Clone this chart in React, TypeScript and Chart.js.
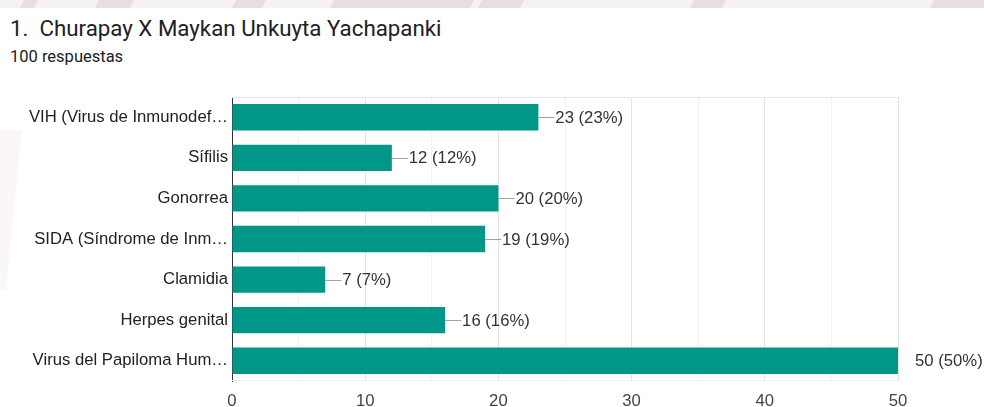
import React, { useEffect, useRef } from "react";
import { Chart, registerables } from "chart.js";

Chart.register(...registerables);

const titleText = "1.  Churapay X Maykan Unkuyta Yachapanki";
const subtitleText = "100 respuestas";
const categories = [
  "VIH (Virus de Inmunodef…",
  "Sífilis",
  "Gonorrea",
  "SIDA (Síndrome de Inm…",
  "Clamidia",
  "Herpes genital",
  "Virus del Papiloma Hum…",
];
const counts = [23, 12, 20, 19, 7, 16, 50];
const percents = [23, 12, 20, 19, 7, 16, 50];
const xMin = 0;
const xMax = 50;
const xMajorStep = 10;
const xMinorStep = 5;

const FONT = "Arial, 'Liberation Sans', sans-serif";
const FS = 16.7;

const decorPlugin = {
  id: "decor",
  beforeDraw(chart: any) {
    const ctx = chart.ctx;
    ctx.save();
    // faint top strip (screenshot artefact)
    ctx.fillStyle = "#f6f2f2";
    ctx.fillRect(0, 0, 984, 8);
    ctx.fillStyle = "rgba(190,150,155,0.22)";
    const shapes: number[][] = [
      [20, 34],
      [95, 130],
      [232, 262],
      [330, 470],
      [478, 520],
      [690, 722],
      [930, 984],
    ];
    shapes.forEach(([a, b]) => {
      ctx.beginPath();
      ctx.moveTo(a + 4, 0);
      ctx.lineTo(b + 4, 0);
      ctx.lineTo(b, 8);
      ctx.lineTo(a, 8);
      ctx.closePath();
      ctx.fill();
    });
    // faint watermark stroke on the left edge
    ctx.fillStyle = "rgba(200,150,160,0.08)";
    ctx.beginPath();
    ctx.moveTo(0, 130);
    ctx.lineTo(22, 130);
    ctx.lineTo(6, 290);
    ctx.lineTo(0, 290);
    ctx.closePath();
    ctx.fill();
    ctx.restore();
  },
  beforeDatasetsDraw(chart: any) {
    const { ctx, chartArea } = chart;
    ctx.save();
    ctx.strokeStyle = "#e6e6e6";
    ctx.lineWidth = 1;
    ctx.beginPath();
    ctx.moveTo(chartArea.left, Math.round(chartArea.top) + 0.5);
    ctx.lineTo(chartArea.right, Math.round(chartArea.top) + 0.5);
    ctx.stroke();
    ctx.strokeStyle = "#eeeeee";
    ctx.beginPath();
    ctx.moveTo(chartArea.left, Math.round(chartArea.bottom) - 0.5);
    ctx.lineTo(chartArea.right, Math.round(chartArea.bottom) - 0.5);
    ctx.stroke();
    ctx.restore();
  },
};

const labelPlugin = {
  id: "barLabels",
  afterDatasetsDraw(chart: any) {
    const ctx = chart.ctx;
    const meta = chart.getDatasetMeta(0);
    const right = chart.chartArea.right;
    ctx.save();
    meta.data.forEach((el: any, i: number) => {
      const x = el.x;
      const y = el.y;
      if (x < right - 1) {
        ctx.strokeStyle = "#a0a0a0";
        ctx.lineWidth = 1;
        ctx.beginPath();
        ctx.moveTo(x, Math.round(y) + 0.5);
        ctx.lineTo(x + 16, Math.round(y) + 0.5);
        ctx.stroke();
      }
      ctx.fillStyle = "#333333";
      ctx.font = `${FS}px ${FONT}`;
      ctx.textBaseline = "middle";
      ctx.textAlign = "left";
      ctx.fillText(`${counts[i]} (${percents[i]}%)`, x + 17, y + 1);
    });
    ctx.restore();
  },
};

export default function App() {
  const canvasRef = useRef<HTMLCanvasElement | null>(null);

  useEffect(() => {
    if (!canvasRef.current) return;
    const chart = new Chart(canvasRef.current, {
      type: "bar",
      data: {
        labels: categories,
        datasets: [
          {
            data: counts,
            backgroundColor: "#009688",
            borderWidth: 0,
            categoryPercentage: 0.65,
            barPercentage: 1,
          },
        ],
      },
      options: {
        indexAxis: "y",
        animation: false,
        responsive: false,
        maintainAspectRatio: false,
        layout: { padding: { top: 97, right: 86, bottom: 0, left: 0 } },
        plugins: {
          legend: { display: false },
          tooltip: { enabled: false },
          title: { display: false },
        },
        scales: {
          x: {
            min: xMin,
            max: xMax,
            ticks: {
              stepSize: xMinorStep,
              color: "#444444",
              font: { family: FONT, size: FS },
              padding: 10,
              callback: (v: any) => (Number(v) % xMajorStep === 0 ? String(v) : ""),
            },
            grid: {
              drawTicks: false,
              color: (c: any) =>
                c.tick && c.tick.value % xMajorStep === 0 ? "#e3e3e3" : "#f3f3f3",
            },
            border: { display: false },
            afterFit(scale: any) {
              scale.height = 26;
            },
          },
          y: {
            ticks: {
              color: "#222222",
              font: { family: FONT, size: FS },
              padding: 4,
              autoSkip: false,
            },
            grid: { display: false, drawTicks: false },
            border: { display: true, color: "#333333", width: 1 },
            afterFit(scale: any) {
              scale.width = 232;
            },
          },
        },
      },
      plugins: [decorPlugin, labelPlugin],
    });
    return () => chart.destroy();
  }, []);

  return (
    <div
      style={{
        position: "fixed",
        left: 0,
        top: 0,
        width: 984,
        height: 407,
        background: "#ffffff",
        overflow: "hidden",
      }}
    >
      <div
        style={{
          position: "absolute",
          left: 10,
          top: 13,
          fontFamily: "Roboto, sans-serif",
          fontSize: 22.3,
          color: "#202124",
          whiteSpace: "pre",
          lineHeight: "30px",
        }}
      >
        {titleText}
      </div>
      <div
        style={{
          position: "absolute",
          left: 10,
          top: 46,
          fontFamily: "Roboto, sans-serif",
          fontSize: 16.5,
          color: "#202124",
          lineHeight: "22px",
        }}
      >
        {subtitleText}
      </div>
      <canvas
        ref={canvasRef}
        width={984}
        height={407}
        style={{ position: "absolute", left: 0, top: 0, width: 984, height: 407 }}
      />
    </div>
  );
}
